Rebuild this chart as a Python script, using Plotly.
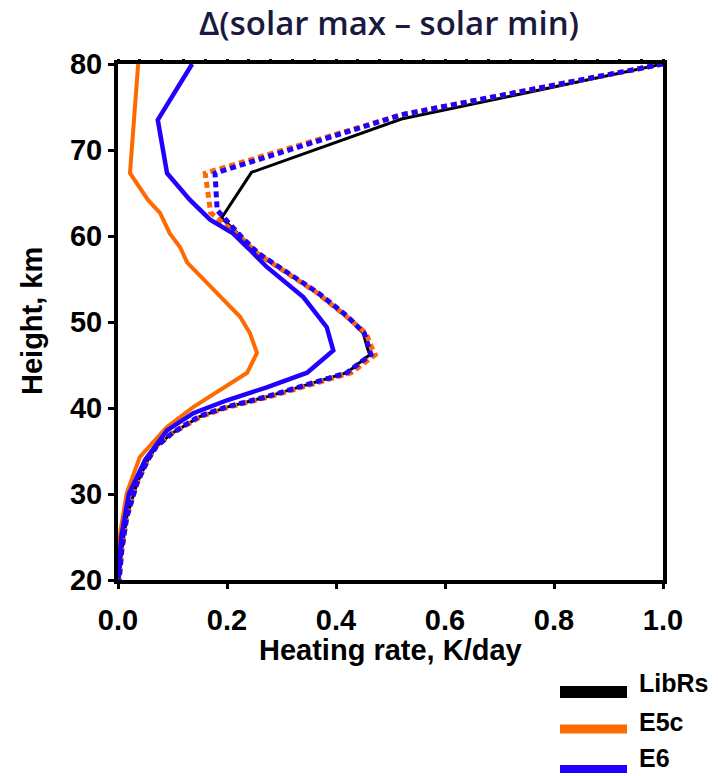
import plotly.graph_objects as go

# ---- data ----
libr_h = [80, 73.6, 67.4, 62.1, 60, 58, 55.7, 53.4, 50.6, 48.7, 47.1, 46.2, 44.1, 42.9, 41.3, 40.1, 39, 37.1, 35.5, 34, 31.3, 27.3, 23.5, 20]
libr_x = [1.0, 0.52, 0.245, 0.19, 0.225, 0.255, 0.31, 0.365, 0.42, 0.45, 0.457, 0.462, 0.42, 0.358, 0.273, 0.2, 0.15, 0.1, 0.07, 0.055, 0.035, 0.016, 0.007, 0.002]

e5c_h = [80, 67.3, 64.2, 62.7, 60.3, 58.7, 56.9, 53.4, 50.6, 48.7, 46.4, 44.1, 42.1, 40.1, 37.8, 34.3, 30.1, 25.5, 20]
e5c_x = [0.037, 0.022, 0.055, 0.077, 0.095, 0.114, 0.127, 0.18, 0.224, 0.242, 0.255, 0.237, 0.187, 0.138, 0.09, 0.04, 0.016, 0.004, 0.0]

e6_h = [80, 73.5, 67.3, 64.2, 61.9, 60.3, 58.4, 56.4, 52.9, 49.4, 46.7, 44.1, 42.4, 40.9, 39.4, 37.4, 34, 30, 25, 20]
e6_x = [0.136, 0.073, 0.09, 0.132, 0.169, 0.211, 0.242, 0.273, 0.34, 0.383, 0.395, 0.347, 0.273, 0.2, 0.138, 0.09, 0.05, 0.02, 0.006, 0.0]

e5c_d_h = [80, 74.1, 67.3, 62.7, 60, 58, 55.7, 53.4, 50.6, 48.7, 47.1, 46.2, 44.1, 42.9, 41.3, 40.1, 39, 37.1, 35.5, 34, 31.3, 27.3, 23.5, 20]
e5c_d_x = [1.0, 0.52, 0.16, 0.17, 0.222, 0.255, 0.31, 0.365, 0.42, 0.455, 0.465, 0.472, 0.428, 0.362, 0.278, 0.203, 0.152, 0.1, 0.07, 0.055, 0.035, 0.016, 0.007, 0.002]

e6_d_h = [80, 74.1, 67.3, 63.0, 60, 58, 55.7, 53.4, 50.6, 48.7, 47.1, 46.2, 44.1, 42.9, 41.3, 40.1, 39, 37.1, 35.5, 34, 31.3, 27.3, 23.5, 20]
e6_d_x = [1.0, 0.52, 0.178, 0.182, 0.225, 0.257, 0.312, 0.367, 0.422, 0.452, 0.46, 0.464, 0.42, 0.356, 0.272, 0.198, 0.148, 0.1, 0.07, 0.055, 0.035, 0.016, 0.007, 0.002]

legend_names = ["LibRs", "E5c", "E6"]
legend_colors = ["#000000", "#ff6a00", "#2200ff"]

xticks = [0.0, 0.2, 0.4, 0.6, 0.8, 1.0]
yticks = [20, 30, 40, 50, 60, 70, 80]

BLACK = "#000000"
ORANGE = "#ff6a00"
BLUE = "#2200ff"
FONT = "Liberation Sans, Arial, sans-serif"

fig = go.Figure()
fig.add_trace(go.Scatter(x=libr_x, y=libr_h, mode="lines", line=dict(color=BLACK, width=3), showlegend=False))
fig.add_trace(go.Scatter(x=e5c_x, y=e5c_h, mode="lines", line=dict(color=ORANGE, width=4), showlegend=False))
fig.add_trace(go.Scatter(x=e5c_d_x, y=e5c_d_h, mode="lines", line=dict(color=ORANGE, width=5, dash="6px,4px"), showlegend=False))
fig.add_trace(go.Scatter(x=e6_x, y=e6_h, mode="lines", line=dict(color=BLUE, width=4.5), showlegend=False))
fig.add_trace(go.Scatter(x=e6_d_x, y=e6_d_h, mode="lines", line=dict(color=BLUE, width=5, dash="6px,4px"), showlegend=False))
# invisible trace for the top axis
fig.add_trace(go.Scatter(x=[0, 1], y=[20, 20], mode="lines", line=dict(width=0), xaxis="x2", showlegend=False, hoverinfo="skip"))

L, R, T, B = 118, 55, 64, 196
W, H = 718, 776
pw, ph = W - L - R, H - T - B

def px(x):
    return (x - L) / pw

def py(y):
    return (H - B - y) / ph

fig.update_layout(
    width=W, height=H,
    margin=dict(l=L, r=R, t=T, b=B),
    paper_bgcolor="white", plot_bgcolor="white",
    showlegend=False,
    title=dict(text="Δ(solar max – solar min)", x=389 / W, xanchor="center", y=1 - 23 / H, yanchor="middle",
               font=dict(family="Open Sans, sans-serif", size=33, color="#1a1a40", weight=600)),
    xaxis=dict(range=[0, 1], tickvals=xticks, tickformat=".1f", ticks="outside", ticklen=5, tickwidth=3,
               tickcolor="black", showline=True, linewidth=4, linecolor="black", mirror=True,
               showgrid=False, zeroline=False, ticklabelstandoff=6,
               tickfont=dict(family=FONT, size=29, color="black", weight="bold")),
    xaxis2=dict(range=[0, 1], overlaying="x", side="top", dtick=0.04, tick0=0, ticks="outside", ticklen=4,
                tickwidth=3, tickcolor="black", showticklabels=False, showgrid=False, zeroline=False, showline=False),
    yaxis=dict(range=[20, 80], tickvals=yticks, ticks="outside", ticklen=6, tickwidth=3, tickcolor="black",
               showline=True, linewidth=4, linecolor="black", mirror=True, showgrid=False, zeroline=False,
               tickfont=dict(family=FONT, size=29, color="black", weight="bold")),
)

annotations = [
    dict(text="Heating rate, K/day", x=px(390), y=py(650), xref="paper", yref="paper", showarrow=False,
         xanchor="center", yanchor="middle", font=dict(family=FONT, size=29, color="black", weight="bold")),
    dict(text="Height, km", x=px(32), y=py(321), xref="paper", yref="paper", showarrow=False, textangle=-90,
         xanchor="center", yanchor="middle", font=dict(family=FONT, size=29, color="black", weight="bold")),
]
shapes = []
leg_line_y = [692, 729, 769]
leg_text_y = [683, 722, 758]
leg_widths = [12, 9, 8]
for name, col, ly, ty, lw in zip(legend_names, legend_colors, leg_line_y, leg_text_y, leg_widths):
    shapes.append(dict(type="line", xref="paper", yref="paper", x0=px(560), x1=px(627), y0=py(ly), y1=py(ly),
                       line=dict(color=col, width=lw)))
    annotations.append(dict(text=name, x=px(637), y=py(ty), xref="paper", yref="paper", showarrow=False,
                            xanchor="left", yanchor="middle",
                            font=dict(family=FONT, size=25, color="black", weight="bold")))
fig.update_layout(annotations=annotations, shapes=shapes)

fig.write_html("out.html")
